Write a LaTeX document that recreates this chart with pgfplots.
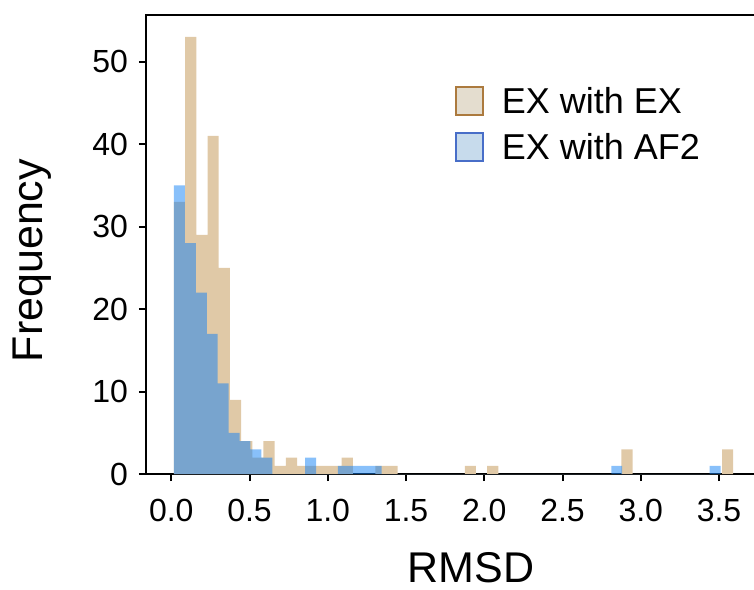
\documentclass[border=0pt]{standalone}
\usepackage{fontspec}
\setmainfont{Liberation Sans}
\usepackage{pgfplots}
\pgfplotsset{compat=1.18}
\definecolor{tanbar}{RGB}{224,201,167}
\definecolor{bluebar}{RGB}{17,129,245}
\definecolor{tanleg}{RGB}{228,221,207}
\definecolor{tanedge}{RGB}{172,122,62}
\definecolor{blueleg}{RGB}{199,219,236}
\definecolor{blueedge}{RGB}{72,110,200}

\begin{document}
\begin{tikzpicture}
\begin{axis}[
    scale only axis,
    width=307.65pt, height=229.55pt,
    xmin=-0.1615, xmax=3.77,
    ymin=0, ymax=55.65,
    axis line style={black, line width=1pt},
    tick align=outside,
    xtick pos=left, ytick pos=left,
    major tick length=3.5pt,
    tick style={black, line width=1pt},
    xtick={0,0.5,1,1.5,2,2.5,3,3.5},
    ytick={0,10,20,30,40,50},
    /pgf/number format/assume math mode=true,
    tick label style={font=\fontsize{16}{19}\selectfont},
    xticklabel style={yshift=-5.5pt, /pgf/number format/.cd, fixed, fixed zerofill, precision=1},
    yticklabel style={xshift=-2pt},
    xlabel={RMSD}, ylabel={Frequency},
    label style={font=\fontsize{21.5}{25}\selectfont, inner sep=0pt},
    xlabel style={at={(axis description cs:0.528,-0.170)}, anchor=north},
    ylabel style={at={(axis description cs:-0.2162,0.465)}, anchor=north},
    legend cell align=left,
    legend style={at={(axis description cs:0.502,0.852)}, anchor=north west,
        draw=none, fill=none, inner sep=0pt, outer sep=0pt,
        font=\fontsize{18}{21}\selectfont,
        row sep=2pt, column sep=7.5pt,
        nodes={inner sep=1.5pt, text height=14pt, text depth=4pt}},
    legend image code/.code={\draw[#1, line width=1pt] (0.5pt,-5.75pt) rectangle (14pt,8.25pt);},
]
% EX with EX (50 bins)
\addplot[ybar interval, fill=tanbar, draw=none, forget plot] coordinates {
(0.0172,33) (0.0887,53) (0.1601,29) (0.2316,41) (0.3031,25) (0.3746,9)
(0.4460,4) (0.5175,2) (0.5890,4) (0.6604,1) (0.7319,2) (0.8034,1)
(0.8748,1) (0.9463,1) (1.0178,1) (1.0893,2) (1.1607,0) (1.3037,1)
(1.3751,1) (1.4466,0) (1.8754,1) (1.9469,0) (2.0184,1) (2.0898,0)
(2.8760,3) (2.9475,0) (3.5192,3) (3.5907,0)
};
% EX with AF2 (50 bins)
\addplot[ybar interval, fill=bluebar, fill opacity=0.5, draw=none, forget plot] coordinates {
(0.0172,35) (0.0871,28) (0.1569,22) (0.2268,17) (0.2966,11) (0.3665,5)
(0.4364,4) (0.5062,3) (0.5761,2) (0.6459,0) (0.8555,2) (0.9254,0)
(1.0651,1) (1.1350,1) (1.2048,1) (1.2747,1) (1.3445,0)
(2.8116,1) (2.8815,0) (3.4404,1) (3.5102,0)
};
\addlegendimage{fill=tanleg, draw=tanedge}
\addlegendentry{EX with EX}
\addlegendimage{fill=blueleg, draw=blueedge}
\addlegendentry{EX with AF2}
\coordinate (bbA) at (axis cs:-1.0944,-14.05);
\coordinate (bbB) at (axis cs:3.7235,57.468);
\end{axis}
\pgfresetboundingbox
\path[use as bounding box] (bbA) rectangle (bbB);
\end{tikzpicture}
\end{document}
